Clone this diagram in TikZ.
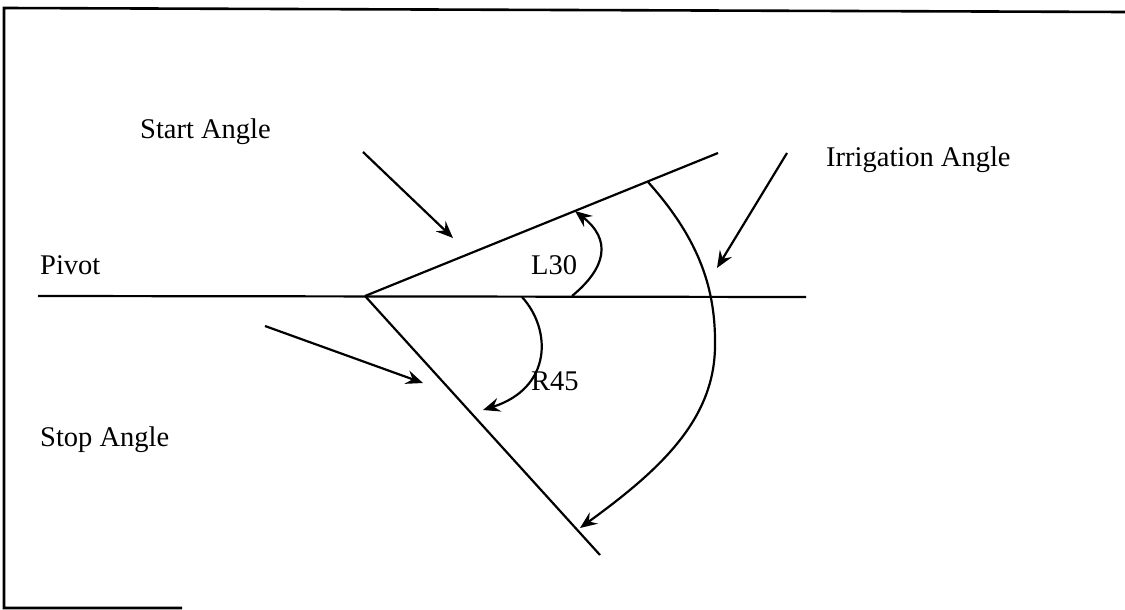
\documentclass[tikz,border=0pt]{standalone}
\usepackage{fontspec}
\setmainfont{Liberation Serif}
\usetikzlibrary{arrows.meta}
\begin{document}
\begin{tikzpicture}[x=1pt,y=-1pt,
  line/.style={line width=2.2pt},
  arr/.style={line width=2.2pt,-{Stealth[length=17pt,width=14pt,inset=6pt]}},
  lbl/.style={anchor=base west,inner sep=0pt,font=\fontsize{28.5}{33}\selectfont},
  frame/.style={line width=2.6pt}]
\useasboundingbox (0,0) rectangle (1125,610);
% frame (scanned, partly missing)
\coordinate (fTL) at (4,8);
\coordinate (fTR) at (1125,12);
\coordinate (fBL) at (4,608);
\coordinate (fBR) at (182,608);
\draw[frame] (fTR) -- (fTL) -- (fBL) -- (fBR);
% geometry
\coordinate (pivot) at (365,296);
\coordinate (hL) at (38,296);
\coordinate (hR) at (806,297);
\coordinate (upEnd) at (718,153);
\coordinate (lowEnd) at (600,555);
\draw[line] (hL) -- (hR);
\draw[line] (pivot) -- (upEnd);
\draw[line] (pivot) -- (lowEnd);
% labels
\node[lbl] (start) at (140,139) {Start Angle};
\node[lbl] (irr) at (826,166) {Irrigation Angle};
\node[lbl] (piv) at (40,274) {Pivot};
\node[lbl] (stop) at (40,446) {Stop Angle};
\node[lbl] (l30) at (531,274) {L30};
\node[lbl] (r45) at (531,390) {R45};
% pointer arrows
\coordinate (sa0) at (363,152);
\coordinate (sa1) at (453,238);
\coordinate (ia0) at (787,153);
\coordinate (ia1) at (717,268);
\coordinate (st0) at (265,326);
\coordinate (st1) at (423,383);
\draw[arr] (sa0) -- (sa1);
\draw[arr] (ia0) -- (ia1);
\draw[arr] (st0) -- (st1);
% angle arcs
\coordinate (l0) at (572,296);
\coordinate (l1) at (575,211);
\draw[arr] (l0) .. controls (606,268) and (612,240) .. (l1);
\coordinate (r0) at (522,297);
\coordinate (r1) at (483,410);
\draw[arr] (r0) .. controls (552,330) and (552,388) .. (r1);
\coordinate (b0) at (648,182);
\coordinate (bm) at (715,347);
\coordinate (b1) at (580,528);
\draw[arr] (b0) .. controls (700,240) and (716,290) .. (bm) .. controls (714,420) and (660,470) .. (b1);
\end{tikzpicture}
\end{document}
